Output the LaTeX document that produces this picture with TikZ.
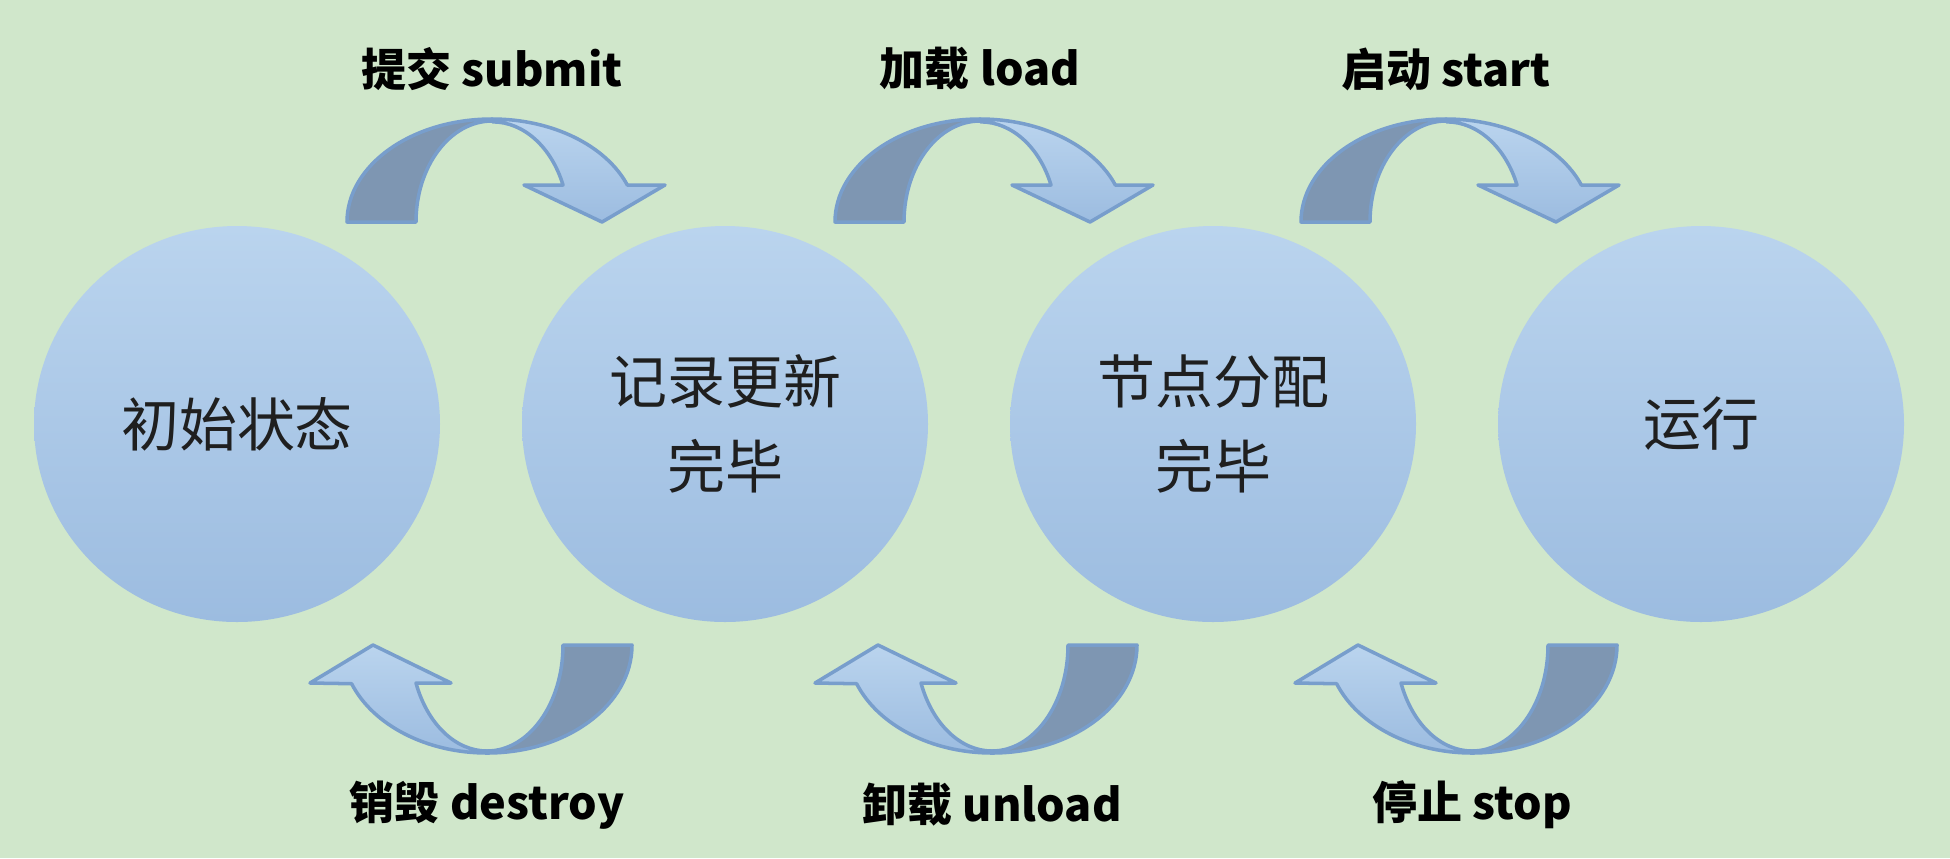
\documentclass[tikz,border=0pt]{standalone}
\usepackage{fontspec}
\newfontfamily\cjk{Noto Sans CJK SC}
\usepackage{tikz}
\usetikzlibrary{shapes.geometric}
\definecolor{bggreen}{RGB}{208,231,203}
\definecolor{balltop}{RGB}{186,212,238}
\definecolor{ballbot}{RGB}{156,188,224}
\definecolor{backblue}{RGB}{126,150,178}
\definecolor{rimblue}{RGB}{120,158,204}
\tikzstyle{state}=[ellipse, minimum width=40.6mm, minimum height=39.6mm, top color=balltop, bottom color=ballbot, align=center, text=black!88, font=\cjk\fontsize{16.5}{24}\selectfont]
\tikzstyle{act}=[font=\cjk\bfseries\fontsize{12.8}{15}\selectfont]
\tikzstyle{back}=[fill=backblue, draw=rimblue, line width=1pt, line join=round]
\tikzstyle{front}=[top color=balltop, bottom color=ballbot, draw=rimblue, line width=1pt, line join=round]

\begin{document}
\begin{tikzpicture}[x=.1mm, y=.1mm]
      \fill[bggreen] (0,0) rectangle (1950,858);

      % the four states
      \node[state] (init) at (237,434) {初始状态};
      \node[state] (recorded) at (725,434) {记录更新\\完毕};
      \node[state] (allocated) at (1213,434) {节点分配\\完毕};
      \node[state] (running) at (1701,434) {运行};

      % forward arrows over the top
      \foreach \cx/\nm/\txt in {492/submit/{提交 submit}, 980/load/{加载 load}, 1446/start/{启动 start}}{
        \begin{scope}[shift={(\cx,636)}]
          \draw[back] (-145,0) arc[start angle=180, end angle=90, x radius=145, y radius=103]
              -- (0,101) arc[start angle=90, end angle=180, x radius=76, y radius=101] -- cycle;
          \draw[front] (0,103) arc[start angle=90, end angle=21, x radius=145, y radius=103]
              -- (173,37) -- (110,0) -- (32,37) -- (71,37)
              arc[start angle=22, end angle=90, x radius=76, y radius=101] -- cycle;
        \end{scope}
        \node[act] (\nm) at (\cx,789) {\txt};
      }

      % backward arrows underneath
      \foreach \cx/\nm/\txt in {487/destroy/{销毁 destroy}, 992/unload/{卸载 unload}, 1472/stop/{停止 stop}}{
        \begin{scope}[shift={(\cx,213)}]
          \draw[back] (145,0) arc[start angle=0, end angle=-90, x radius=145, y radius=108]
              -- (0,-106) arc[start angle=-90, end angle=0, x radius=76, y radius=106] -- cycle;
          \draw[front] (0,-108) arc[start angle=270, end angle=201, x radius=145, y radius=108]
              -- (-177,-38) -- (-114,0) -- (-36,-38) -- (-71,-38)
              arc[start angle=201, end angle=270, x radius=76, y radius=106] -- cycle;
        \end{scope}
        \node[act] (\nm) at (\cx,53) {\txt};
      }
\end{tikzpicture}
\end{document}
